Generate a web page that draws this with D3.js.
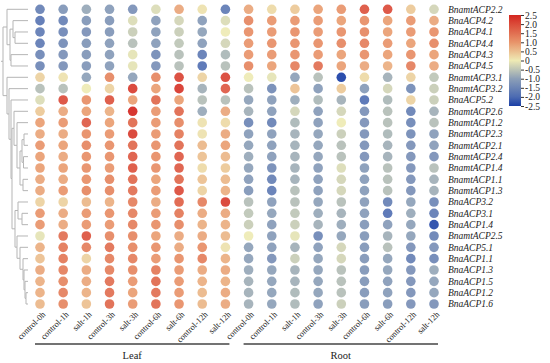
<!DOCTYPE html>
<html>
<head>
<meta charset="utf-8">
<script src="https://cdn.jsdelivr.net/npm/d3@7"></script>
<style>
  body { margin: 0; background: #fff; }
  svg text { font-family: "Liberation Serif", "Times New Roman", serif; fill: #222; }
</style>
</head>
<body>
<svg id="chart" width="550" height="363"></svg>
<script>
var genes = [
  "BnamtACP2.2", "BnaACP4.2", "BnaACP4.1", "BnaACP4.4", "BnaACP4.3", "BnaACP4.5",
  "BnamtACP3.1", "BnamtACP3.2", "BnaACP5.2", "BnamtACP2.6", "BnamtACP1.2", "BnamtACP2.3",
  "BnamtACP2.1", "BnamtACP2.4", "BnamtACP1.4", "BnamtACP1.1", "BnamtACP1.3", "BnaACP3.2",
  "BnaACP3.1", "BnaACP1.4", "BnamtACP2.5", "BnaACP5.1", "BnaACP1.1", "BnaACP1.3",
  "BnaACP1.5", "BnaACP1.2", "BnaACP1.6"
];

var tissues = ["Leaf", "Root"];
var timepoints = ["control-0h", "control-1h", "salt-1h", "control-3h", "salt-3h",
  "control-6h", "salt-6h", "control-12h", "salt-12h"];

var legendTicks = [2.5, 2.0, 1.5, 1.0, 0.5, 0, -0.5, -1.0, -1.5, -2.0, -2.5];

// one row per gene, one value per timepoint
var leafValues = [
  [-1.6, -1.2, -0.9, -1.1, -1.3, -0.2, 0.8, 0.1, -1.7],
  [-1.8, -1.6, -1.2, -1.2, -0.2, -1.1, -0.3, -1.1, -0.2],
  [-1.7, -1.5, -1.3, -1.2, -0.4, -1.1, -0.4, -1.0, 0.0],
  [-1.7, -1.4, -1.2, -1.1, -0.6, -1.1, -0.5, -1.1, -0.3],
  [-1.5, -1.3, -1.2, -1.1, -0.1, -1.4, -0.6, -1.7, -0.7],
  [-1.5, -1.3, -1.2, -1.1, -0.1, -1.3, -0.6, -1.9, -0.6],
  [0.3, 0.1, -1.0, 1.2, -1.0, 1.2, 2.1, 0.3, 2.1],
  [-0.6, -0.6, 0.0, 0.3, 2.2, 0.9, 2.3, -0.8, 1.8],
  [-0.2, 2.0, 1.1, 1.9, 0.9, 1.6, 0.9, -0.6, -0.6],
  [0.4, 0.8, 0.9, 0.7, 2.5, 1.0, 1.6, -0.9, 0.8],
  [0.9, 1.0, 1.8, 0.9, 1.6, 1.0, 1.2, 0.1, 0.2],
  [0.8, 0.8, 1.1, 1.0, 2.2, 1.0, 1.4, 0.1, 0.8],
  [1.0, 0.9, 1.2, 1.1, 1.6, 1.1, 1.6, 0.6, 0.9],
  [0.9, 0.8, 1.1, 1.1, 1.8, 1.1, 1.8, 0.5, 0.6],
  [0.9, 0.9, 1.1, 1.0, 1.9, 1.1, 1.8, 0.2, 0.4],
  [0.8, 0.8, 1.1, 1.2, 1.6, 0.9, 1.6, 0.5, 0.6],
  [0.8, 1.0, 1.2, 1.2, 1.5, 1.0, 2.0, 0.3, 0.7],
  [0.3, 0.3, 0.6, 0.7, 1.3, 0.8, 1.7, 1.3, 2.2],
  [1.0, 0.8, 1.0, 1.1, 1.3, 1.0, 1.4, 0.8, 0.8],
  [1.0, 0.8, 1.0, 1.0, 1.3, 1.1, 1.2, 0.7, 0.7],
  [-0.1, 1.5, 1.9, 1.2, 1.2, 0.9, 0.8, 0.8, 0.6],
  [0.7, 1.4, 1.3, 1.5, 1.2, 1.1, 0.8, 1.1, 0.1],
  [0.5, 1.4, 0.3, 1.3, 1.3, 1.0, 1.1, 1.3, 0.7],
  [0.8, 1.3, 0.8, 1.3, 1.2, 1.4, 1.0, 0.8, 0.8],
  [0.7, 1.2, 0.8, 1.5, 1.0, 1.6, 1.0, 0.7, 0.7],
  [0.7, 1.3, 0.7, 1.5, 0.9, 1.5, 1.0, 0.6, 0.8],
  [0.6, 1.2, 0.5, 1.6, 1.0, 1.6, 1.1, 0.6, 0.8]
];

var rootValues = [
  [0.8, 0.2, 0.4, 0.9, 1.0, 1.9, 2.0, 0.4, -0.3],
  [1.2, 1.0, 1.0, 1.0, 0.9, 1.1, 0.9, 1.0, 0.8],
  [1.1, 1.0, 1.1, 1.0, 1.1, 1.2, 0.9, 1.0, 1.1],
  [1.0, 1.1, 1.1, 1.1, 1.2, 1.3, 1.0, 0.9, 1.2],
  [1.0, 1.0, 1.1, 1.0, 0.9, 1.1, 0.9, 1.1, 0.9],
  [1.2, 0.9, 1.3, 1.5, 0.9, 0.8, 0.7, 1.3, 0.8],
  [0.0, -0.1, -1.0, -0.6, -2.5, 0.2, -0.8, 0.3, -0.5],
  [-0.6, -1.4, 0.5, -1.1, 0.4, -1.1, -0.3, -1.4, -0.4],
  [-1.0, -1.1, -0.9, -0.7, -0.8, -1.9, -0.7, 0.3, -0.4],
  [-0.8, -1.1, -0.3, -1.1, -0.3, -1.3, -0.6, -1.6, -0.8],
  [-1.5, -1.6, -0.7, -1.1, 0.0, -1.3, -0.6, -1.5, -0.6],
  [-1.1, -1.1, -0.8, -1.0, -0.4, -1.3, -0.7, -1.4, -1.1],
  [-1.0, -1.1, -0.8, -1.0, -0.6, -1.3, -0.8, -1.3, -1.1],
  [-0.9, -1.1, -0.8, -1.0, -0.6, -1.3, -0.8, -1.3, -1.3],
  [-1.0, -1.4, -0.8, -1.1, -0.2, -1.1, -0.6, -1.3, -0.6],
  [-1.1, -1.6, -0.8, -1.1, -0.3, -1.1, -0.6, -1.3, -0.8],
  [-1.2, -1.7, -0.6, -1.1, -0.3, -1.1, -0.6, -1.3, -0.8],
  [-0.6, -1.1, -0.6, -1.0, -0.6, -1.1, -1.6, -1.0, -1.5],
  [-0.5, -1.0, -0.5, -0.9, -0.8, -1.1, -1.9, -0.9, -1.7],
  [-0.4, -1.1, -0.4, -0.8, -0.9, -1.2, -1.1, -1.0, -2.4],
  [0.0, -1.1, -0.1, -1.5, -1.0, -1.2, -0.8, -1.0, -1.6],
  [-1.0, -1.1, -0.8, -1.1, -0.3, -1.2, -0.6, -1.3, -1.3],
  [-1.0, -1.3, -0.4, -1.0, -0.3, -1.2, -1.0, -1.6, -1.5],
  [-0.9, -1.0, -0.8, -1.0, -0.6, -1.2, -1.0, -1.3, -0.9],
  [-0.8, -1.0, -0.8, -1.0, -0.6, -1.2, -1.1, -1.3, -1.0],
  [-0.8, -1.0, -0.7, -1.0, -0.6, -1.2, -1.1, -1.3, -1.0],
  [-0.8, -1.0, -0.7, -1.1, -0.4, -1.2, -1.2, -1.3, -1.3]
];

// row clustering: leaves are gene indices, h is the merge height
var tree = {h: 25, children: [
  {h: 21, children: [0,
    {h: 18, children: [
      {h: 15, children: [1, {h: 13, children: [2, 3]}]},
      {h: 17, children: [4, 5]}
    ]}
  ]},
  {h: 21, children: [6,
    {h: 19, children: [7,
      {h: 17, children: [8,
        {h: 16, children: [
          {h: 14, children: [9,
            {h: 11, children: [10,
              {h: 8, children: [
                {h: 6, children: [{h: 4, children: [11, 12]}, {h: 4.5, children: [13, 14]}]},
                {h: 5, children: [15, 16]}
              ]}
            ]}
          ]},
          {h: 13, children: [
            {h: 10, children: [17, {h: 6, children: [18, 19]}]},
            {h: 11, children: [20,
              {h: 8, children: [21,
                {h: 5, children: [22,
                  {h: 4, children: [23,
                    {h: 3, children: [24, {h: 2, children: [25, 26]}]}
                  ]}
                ]}
              ]}
            ]}
          ]}
        ]}
      ]}
    ]}
  ]}
]};

var svg = d3.select("#chart");

var columns = [];
tissues.forEach(function (t) {
  timepoints.forEach(function (p) { columns.push(t + "|" + p); });
});

var x = d3.scalePoint().domain(columns).range([40, 434]);
var y = d3.scalePoint().domain(genes).range([9.3, 304]);

var color = d3.scaleLinear()
  .domain([-2.5, -2, -1, 0, 1, 2.5])
  .range(["#1a3fa6", "#4c6bb2", "#8c9fb7", "#eeeab4", "#e8946a", "#d42620"])
  .clamp(true);

// cells
var cells = [];
genes.forEach(function (g, i) {
  timepoints.forEach(function (p, j) {
    cells.push({gene: g, col: "Leaf|" + p, v: leafValues[i][j]});
    cells.push({gene: g, col: "Root|" + p, v: rootValues[i][j]});
  });
});

svg.append("g")
  .selectAll("circle")
  .data(cells)
  .enter()
  .append("circle")
  .attr("cx", d => x(d.col))
  .attr("cy", d => y(d.gene))
  .attr("r", 4.8)
  .attr("fill", d => color(d.v))
  .attr("fill-opacity", 0.92);

// gene labels
svg.append("g")
  .selectAll("text")
  .data(genes)
  .enter()
  .append("text")
  .attr("x", 448)
  .attr("y", d => y(d))
  .attr("dy", "0.35em")
  .attr("font-size", "9.5px")
  .attr("font-style", "italic")
  .text(d => d);

// column labels
svg.append("g")
  .selectAll("text")
  .data(columns)
  .enter()
  .append("text")
  .attr("text-anchor", "end")
  .attr("font-size", "8.5px")
  .attr("transform", d => "translate(" + (x(d) + 6) + ",315) rotate(-45)")
  .text(d => d.split("|")[1]);

// tissue brackets
tissues.forEach(function (t) {
  var x0 = x(t + "|" + timepoints[0]) - 5;
  var x1 = x(t + "|" + timepoints[timepoints.length - 1]) + 4;
  svg.append("line")
    .attr("x1", x0).attr("x2", x1)
    .attr("y1", 344).attr("y2", 344)
    .attr("stroke", "#444")
    .attr("stroke-width", 1.5);
  svg.append("text")
    .attr("x", (x0 + x1) / 2)
    .attr("y", 359)
    .attr("text-anchor", "middle")
    .attr("font-size", "10.5px")
    .text(t);
});

// dendrogram
var root = d3.hierarchy(tree, d => typeof d === "number" ? null : d.children);
var hx = d3.scaleLinear().domain([0, 25]).range([28, 3]);
root.eachAfter(function (n) {
  if (!n.children) {
    n.px = hx(0);
    n.py = y(genes[n.data]);
  } else {
    n.px = hx(n.data.h);
    n.py = (n.children[0].py + n.children[n.children.length - 1].py) / 2;
  }
});

var dendro = svg.append("g")
  .attr("fill", "none")
  .attr("stroke", "#b5b5b5")
  .attr("stroke-width", 1);

dendro.selectAll("path")
  .data(root.links())
  .enter()
  .append("path")
  .attr("d", l => "M" + l.source.px + "," + l.source.py +
    "V" + l.target.py + "H" + l.target.px);

dendro.append("path")
  .attr("d", "M1," + root.py + "H" + root.px);

// colour legend
var ly = d3.scaleLinear().domain([-2.5, 2.5]).range([106, 15]);
var defs = svg.append("defs");
var grad = defs.append("linearGradient")
  .attr("id", "legendGrad")
  .attr("x1", 0).attr("x2", 0).attr("y1", 1).attr("y2", 0);
grad.selectAll("stop")
  .data(d3.range(0, 1.001, 0.05))
  .enter()
  .append("stop")
  .attr("offset", d => d)
  .attr("stop-color", d => color(-2.5 + 5 * d));

svg.append("rect")
  .attr("x", 509)
  .attr("y", ly(2.5))
  .attr("width", 12)
  .attr("height", ly(-2.5) - ly(2.5))
  .attr("fill", "url(#legendGrad)");

var legendAxis = svg.append("g")
  .attr("transform", "translate(521,0)")
  .call(d3.axisRight(ly)
    .tickValues(legendTicks)
    .tickSize(3)
    .tickPadding(1)
    .tickFormat(d => d === 0 ? "0" : d.toFixed(1)));
legendAxis.select(".domain").remove();
legendAxis.selectAll("line").attr("stroke", "#333");
legendAxis.selectAll("text")
  .attr("font-size", "9.5px")
  .attr("font-family", "Liberation Serif, Times New Roman, serif")
  .attr("fill", "#222");
</script>
</body>
</html>
